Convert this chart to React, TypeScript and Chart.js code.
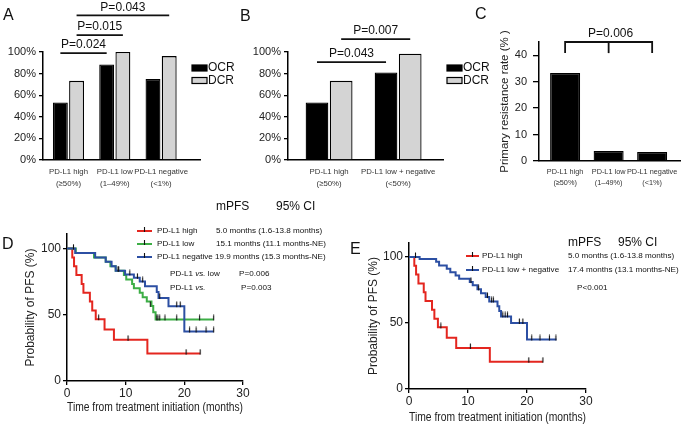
import React, { useEffect, useRef } from "react";
import { Chart, registerables } from "chart.js";

Chart.register(...registerables);

const FONT = "'Liberation Sans', Arial, Helvetica, sans-serif";
Chart.defaults.font.family = FONT;
Chart.defaults.color = "#222";

// ---------------- Panel A ----------------
const catsA = [["PD-L1 high", "(≥50%)"], ["PD-L1 low", "(1–49%)"], ["PD-L1 negative", "(<1%)"]];
const seriesNames = ["OCR", "DCR"];
const ocrA = [53.3, 88.5, 75.0];
const dcrA = [73.3, 100.0, 96.2];
const pLabelsA = ["P=0.024", "P=0.015", "P=0.043"];

// ---------------- Panel B ----------------
const catsB = [["PD-L1 high", "(≥50%)"], ["PD-L1 low + negative", "(<50%)"]];
const ocrB = [53.3, 81.0];
const dcrB = [73.3, 98.4];
const pLabelsB = ["P=0.043", "P=0.007"];

// ---------------- Panel C ----------------
const catsC = [["PD-L1 high", "(≥50%)"], ["PD-L1 low", "(1–49%)"], ["PD-L1 negative", "(<1%)"]];
const resistC = [33.3, 3.8, 3.4];
const pLabelC = "P=0.006";

// ---------------- Panels D / E (Kaplan–Meier) ----------------
const highT = [0, 0.9, 1.2, 1.6, 2.5, 2.8, 3.9, 4.3, 4.9, 6.4, 8.0, 13.7, 22.7];
const highS = [100, 93.3, 86.7, 80.0, 73.3, 66.7, 60.0, 53.3, 46.7, 38.9, 31.1, 20.7, 20.7];
const highCensT = [5.4, 10.4, 20.3, 22.7];
const highCensS = [46.7, 31.1, 20.7, 20.7];

const lowT = [0, 1.5, 4.6, 6.6, 7.4, 8.3, 9.7, 10.1, 11.1, 11.4, 12.4, 12.9, 13.6, 14.4, 14.7, 15.1, 25.0];
const lowS = [100, 96.7, 93.3, 90.0, 86.7, 83.3, 80.0, 76.7, 73.3, 70.0, 66.7, 63.3, 60.0, 56.7, 52.0, 46.5, 46.5];
const lowCensT = [8.7, 14.2, 15.3, 15.5, 15.8, 16.7, 18.7, 22.6, 25.0];
const lowCensS = [83.3, 56.7, 46.5, 46.5, 46.5, 46.5, 46.5, 46.5, 46.5];

const negT = [0, 1.4, 4.8, 6.6, 7.6, 8.3, 9.9, 11.4, 12.4, 13.3, 15.3, 15.6, 17.3, 20.0, 25.0];
const negS = [100, 96.7, 93.3, 90.0, 86.7, 83.3, 80.5, 78.0, 75.2, 71.6, 67.2, 62.7, 56.5, 37.4, 37.4];
const negCensT = [1.1, 8.8, 10.7, 12.0, 12.9, 15.8, 18.7, 19.3, 20.9, 22.0, 23.7, 25.0];
const negCensS = [100, 83.3, 80.5, 78.0, 75.2, 62.7, 56.5, 56.5, 37.4, 37.4, 37.4, 37.4];

const lowNegT = [0, 1.8, 4.6, 5.1, 6.4, 7.0, 7.9, 8.5, 10.3, 10.8, 11.6, 12.2, 13.0, 13.6, 15.0, 15.3, 15.6, 17.3, 20.0, 25.0];
const lowNegS = [100, 98.5, 96.4, 93.6, 91.0, 88.5, 86.0, 83.5, 81.0, 78.5, 75.5, 72.6, 69.6, 66.3, 62.7, 59.0, 55.0, 50.0, 37.5, 37.5];
const lowNegCensT = [1.1, 10.5, 11.8, 13.3, 14.0, 14.3, 15.9, 16.3, 16.7, 18.7, 19.3, 20.8, 22.2, 23.8, 24.9];
const lowNegCensS = [100, 81.0, 75.5, 69.6, 66.3, 66.3, 55.0, 55.0, 55.0, 50.0, 50.0, 37.5, 37.5, 37.5, 37.5];

const namesD = ["PD-L1 high", "PD-L1 low", "PD-L1 negative"];
const mpfsD = ["5.0 months (1.6-13.8 months)", "15.1 months (11.1 months-NE)", "19.9 months (15.3 months-NE)"];
const compareD = [["PD-L1 ", "vs.", " low", "P=0.006"], ["PD-L1 ", "vs.", "", "P=0.003"]];
const namesE = ["PD-L1 high", "PD-L1 low + negative"];
const mpfsE = ["5.0 months (1.6-13.8 months)", "17.4 months (13.1 months-NE)"];
const pE = "P<0.001";
const headers = ["mPFS", "95% CI"];
const xTitleKM = "Time from treatment initiation (months)";
const yTitleKM = "Probability of PFS (%)";

const RED = "#e4261f";
const GREEN = "#3dae46";
const BLUE = "#2c4fa3";
const LEG = 8.1;

// ---------------- helpers ----------------
function txt(ctx: CanvasRenderingContext2D, s: string, x: number, y: number, size: number, align: CanvasTextAlign = "left", style = "", color = "#111") {
  ctx.font = `${style} ${size}px ${FONT}`;
  ctx.textAlign = align;
  ctx.textBaseline = "middle";
  ctx.fillStyle = color;
  ctx.fillText(s, x, y);
}
function poly(ctx: CanvasRenderingContext2D, pts: number[][], w: number, color = "#111") {
  ctx.save();
  ctx.strokeStyle = color;
  ctx.lineWidth = w;
  ctx.lineCap = "butt";
  ctx.lineJoin = "miter";
  ctx.beginPath();
  pts.forEach((p, i) => (i ? ctx.lineTo(p[0], p[1]) : ctx.moveTo(p[0], p[1])));
  ctx.stroke();
  ctx.restore();
}
function barX(chart: any, ds: number, i: number) {
  return chart.getDatasetMeta(ds).data[i].x;
}
function sigLine(chart: any, a: number[], b: number[], level: number, label: string) {
  const ctx = chart.ctx;
  const x1 = barX(chart, a[0], a[1]);
  const x2 = barX(chart, b[0], b[1]);
  const y = chart.scales.y.getPixelForValue(level);
  poly(ctx, [[x1, y], [x2, y]], 1.8);
  txt(ctx, label, (x1 + x2) / 2, y - 8, 12, "center");
}
function barLegend(ctx: CanvasRenderingContext2D, x: number, y0: number) {
  const fills = ["#000", "#d4d4d4"];
  seriesNames.forEach((n, i) => {
    const y = y0 + i * 12.5;
    ctx.fillStyle = fills[i];
    ctx.fillRect(x, y - 3, 15, 6);
    ctx.strokeStyle = "#000";
    ctx.lineWidth = 1.2;
    ctx.strokeRect(x, y - 3, 15, 6);
    txt(ctx, n, x + 16, y, 12);
  });
}

// censor tick: short vertical stroke mostly above the curve
function makeCensorMark() {
  const c = document.createElement("canvas");
  c.width = 3;
  c.height = 10;
  const g = c.getContext("2d") as CanvasRenderingContext2D;
  g.strokeStyle = "#111";
  g.lineWidth = 1.1;
  g.beginPath();
  g.moveTo(1.5, 0.5);
  g.lineTo(1.5, 6);
  g.stroke();
  return c;
}

function barConfig(o: any) {
  const cats = o.cats;
  return {
    type: "bar",
    data: {
      datasets: o.series.map((s: any) => ({
        label: s.label,
        data: s.values.map((v: number, i: number) => ({ x: i + 1, y: v })),
        backgroundColor: s.color,
        borderColor: "#000",
        borderWidth: 1.3,
        categoryPercentage: o.catPct,
        barPercentage: o.barPct,
      })),
    },
    options: {
      animation: false,
      responsive: false,
      events: [],
      layout: { padding: o.pad },
      plugins: { legend: { display: false }, tooltip: { enabled: false } },
      scales: {
        x: {
          type: "linear",
          offset: false,
          min: o.xMin,
          max: o.xMax,
          grid: { display: false, offset: false },
          border: { color: "#000", width: 1.5 },
          afterBuildTicks: (s: any) => {
            s.ticks = cats.map((_: any, i: number) => ({ value: i + 1 }));
          },
          ticks: {
            callback: (_v: any, i: number) => cats[i],
            font: { size: o.catFont, lineHeight: 1.5 },
            color: "#333",
            padding: -2,
            maxRotation: 0,
            autoSkip: false,
          },
          afterFit: (s: any) => {
            s.height = o.xHeight;
          },
        },
        y: {
          min: 0,
          max: o.yMax,
          title: o.yTitle
            ? { display: true, text: o.yTitle, font: { size: 11.5 }, color: "#222", padding: 0 }
            : { display: false },
          ticks: { stepSize: o.yStep, includeBounds: false, callback: o.yFmt, font: { size: 11 }, color: "#222", padding: o.tickPad },
          grid: { drawOnChartArea: false, drawTicks: true, tickLength: o.tickLen, color: "#000", lineWidth: 1.3 },
          border: { color: "#000", width: 1.5 },
          afterFit: (s: any) => {
            s.width = o.yWidth;
          },
        },
      },
    },
    plugins: [{ id: "anno", afterDraw: o.draw }],
  };
}

function makeA() {
  return barConfig({
    cats: catsA,
    series: [
      { label: seriesNames[0], values: ocrA, color: "#000" },
      { label: seriesNames[1], values: dcrA, color: "#d4d4d4" },
    ],
    xMin: 0.45,
    xMax: 3.84,
    yMax: 100,
    yStep: 20,
    yFmt: (v: number) => v + "%",
    pad: { left: 0, top: 52, right: 38, bottom: 0 },
    yWidth: 43,
    xHeight: 30,
    catPct: 0.7,
    barPct: 0.92,
    catFont: 7.8,
    tickPad: 3,
    tickLen: 4,
    draw: (chart: any) => {
      const ctx = chart.ctx;
      sigLine(chart, [0, 0], [0, 1], 99, pLabelsA[0]);
      sigLine(chart, [1, 0], [1, 1], 115.7, pLabelsA[1]);
      sigLine(chart, [1, 0], [1, 2], 134, pLabelsA[2]);
      barLegend(ctx, 192, 68);
      txt(ctx, "A", 3, 16, 16);
    },
  });
}

function makeB() {
  return barConfig({
    cats: catsB,
    series: [
      { label: seriesNames[0], values: ocrB, color: "#000" },
      { label: seriesNames[1], values: dcrB, color: "#d4d4d4" },
    ],
    xMin: 0.405,
    xMax: 2.65,
    yMax: 100,
    yStep: 20,
    yFmt: (v: number) => v + "%",
    pad: { left: 0, top: 52, right: 57, bottom: 0 },
    yWidth: 50,
    xHeight: 30,
    catPct: 0.7,
    barPct: 0.94,
    catFont: 7.8,
    tickPad: 3,
    tickLen: 4,
    draw: (chart: any) => {
      const ctx = chart.ctx;
      sigLine(chart, [0, 0], [0, 1], 90.7, pLabelsB[0]);
      sigLine(chart, [1, 0], [1, 1], 112, pLabelsB[1]);
      barLegend(ctx, 209, 68);
      txt(ctx, "B", 2, 17, 16);
    },
  });
}

function makeC() {
  return barConfig({
    cats: catsC,
    series: [{ label: "Primary resistance", values: resistC, color: "#000" }],
    xMin: 0.4,
    xMax: 3.64,
    yMax: 45,
    yStep: 10,
    yFmt: (v: number) => String(v),
    yTitle: "Primary resistance rate (% )",
    pad: { left: 38, top: 42, right: 14, bottom: 0 },
    yWidth: 41,
    xHeight: 29,
    catPct: 0.69,
    barPct: 1,
    catFont: 7.3,
    tickPad: 6,
    tickLen: 6,
    draw: (chart: any) => {
      const ctx = chart.ctx;
      const ys = chart.scales.y;
      const xs = [0, 1, 2].map((i) => barX(chart, 0, i));
      const yTop = ys.getPixelForValue(45);
      const yLeg = ys.getPixelForValue(40.8);
      poly(ctx, [[xs[0], yLeg], [xs[0], yTop], [xs[2], yTop], [xs[2], yLeg]], 1.8);
      poly(ctx, [[xs[1], yTop], [xs[1], yLeg]], 1.8);
      txt(ctx, pLabelC, xs[1] + 2, yTop - 8, 12, "center");
      txt(ctx, "C", 15, 15, 16);
    },
  });
}

function km(t: number[], s: number[]) {
  return t.map((x, i) => ({ x, y: s[i] }));
}

function kmConfig(o: any) {
  const mark = makeCensorMark();
  const curves = o.curves.map((c: any) => ({
    type: "line",
    data: km(c.t, c.s),
    borderColor: c.color,
    borderWidth: 2,
    stepped: true,
    pointRadius: 0,
    fill: false,
    order: c.order,
  }));
  const cens = o.curves.map((c: any) => ({
    type: "line",
    data: km(c.ct, c.cs),
    showLine: false,
    pointStyle: mark,
    pointRadius: 4,
    borderColor: "#111",
    order: 0,
  }));
  return {
    type: "line",
    data: { datasets: [...cens, ...curves] },
    options: {
      animation: false,
      responsive: false,
      events: [],
      layout: { padding: o.pad },
      plugins: { legend: { display: false }, tooltip: { enabled: false } },
      scales: {
        x: {
          type: "linear",
          min: 0,
          max: 30,
          ticks: { stepSize: 10, font: { size: 12 }, color: "#222", padding: 1 },
          grid: { drawOnChartArea: false, drawTicks: true, tickLength: 4, color: "#000", lineWidth: 1.3 },
          border: { color: "#000", width: 1.5 },
          title: { display: true, text: xTitleKM, font: { size: 12 }, color: "#222", padding: 0 },
          afterFit: (s: any) => {
            s.height = o.xHeight;
          },
        },
        y: {
          min: 0,
          max: o.yMax,
          ticks: { stepSize: 50, includeBounds: false, font: { size: 12 }, color: "#222", padding: 2 },
          grid: { drawOnChartArea: false, drawTicks: true, tickLength: 4, color: "#000", lineWidth: 1.3 },
          border: { color: "#000", width: 1.5 },
          title: { display: true, text: yTitleKM, font: { size: 12 }, color: "#222", padding: 0 },
          afterFit: (s: any) => {
            s.width = o.yWidth;
          },
        },
      },
    },
    plugins: [{ id: "kmAnno", afterDraw: o.draw }],
  };
}

function legendLine(ctx: CanvasRenderingContext2D, x1: number, x2: number, y: number, color: string) {
  poly(ctx, [[x1, y], [x2, y]], 2, color);
  const xm = (x1 + x2) / 2;
  poly(ctx, [[xm, y - 4], [xm, y + 1]], 1.1, "#111");
}

function makeD() {
  return kmConfig({
    curves: [
      { t: highT, s: highS, ct: highCensT, cs: highCensS, color: RED, order: 3 },
      { t: lowT, s: lowS, ct: lowCensT, cs: lowCensS, color: GREEN, order: 2 },
      { t: negT, s: negS, ct: negCensT, cs: negCensS, color: BLUE, order: 1 },
    ],
    yMax: 111,
    pad: { left: 23, top: 44, right: 102, bottom: 10 },
    yWidth: 44,
    xHeight: 34,
    draw: (chart: any) => {
      const ctx = chart.ctx;
      txt(ctx, "D", 2, 55, 16);
      txt(ctx, headers[0], 216, 17, 12);
      txt(ctx, headers[1], 276, 17, 12);
      const colors = [RED, GREEN, BLUE];
      const rows = [41, 54, 67];
      namesD.forEach((n, i) => {
        legendLine(ctx, 137, 152, rows[i], colors[i]);
        txt(ctx, n, 157, rows[i], LEG);
        txt(ctx, mpfsD[i], 216 - (i === 2 ? 1 : 0), rows[i], LEG);
      });
      const cy = [84, 98];
      compareD.forEach((c, i) => {
        let x = 170;
        txt(ctx, c[0], x, cy[i], LEG);
        ctx.font = `${LEG}px ${FONT}`;
        x += ctx.measureText(c[0]).width;
        txt(ctx, c[1], x, cy[i], LEG, "left", "italic");
        ctx.font = `italic ${LEG}px ${FONT}`;
        x += ctx.measureText(c[1]).width;
        txt(ctx, c[2], x, cy[i], LEG);
        txt(ctx, c[3], 239 + i * 2, cy[i], LEG);
      });
    },
  });
}

function makeE() {
  return kmConfig({
    curves: [
      { t: highT, s: highS, ct: highCensT, cs: highCensS, color: RED, order: 2 },
      { t: lowNegT, s: lowNegS, ct: lowNegCensT, cs: lowNegCensS, color: BLUE, order: 1 },
    ],
    yMax: 110.6,
    pad: { left: 21, top: 53, right: 108, bottom: 0 },
    yWidth: 43,
    xHeight: 36,
    draw: (chart: any) => {
      const ctx = chart.ctx;
      txt(ctx, "E", 5, 60, 16);
      txt(ctx, headers[0], 223, 53, 12);
      txt(ctx, headers[1], 273, 53, 12);
      const colors = [RED, BLUE];
      const rows = [66, 80];
      namesE.forEach((n, i) => {
        legendLine(ctx, 121, 134, rows[i], colors[i]);
        txt(ctx, n, 137, rows[i], LEG);
        txt(ctx, mpfsE[i], 223, rows[i], LEG);
      });
      txt(ctx, pE, 232, 98, LEG);
    },
  });
}

function ChartBox({ left, top, width, height, make }: any) {
  const ref = useRef<HTMLCanvasElement>(null);
  useEffect(() => {
    const chart = new Chart(ref.current as HTMLCanvasElement, make());
    return () => chart.destroy();
  }, [make]);
  return (
    <canvas
      ref={ref}
      width={width}
      height={height}
      style={{ position: "absolute", left, top, width, height }}
    />
  );
}

export default function App() {
  return (
    <div
      style={{
        position: "absolute",
        left: 0,
        top: 0,
        width: 694,
        height: 425,
        background: "#fff",
        overflow: "hidden",
      }}
    >
      <ChartBox left={0} top={0} width={238} height={190} make={makeA} />
      <ChartBox left={238} top={0} width={262} height={190} make={makeB} />
      <ChartBox left={460} top={0} width={234} height={190} make={makeC} />
      <ChartBox left={0} top={190} width={345} height={235} make={makeD} />
      <ChartBox left={345} top={190} width={349} height={235} make={makeE} />
    </div>
  );
}
